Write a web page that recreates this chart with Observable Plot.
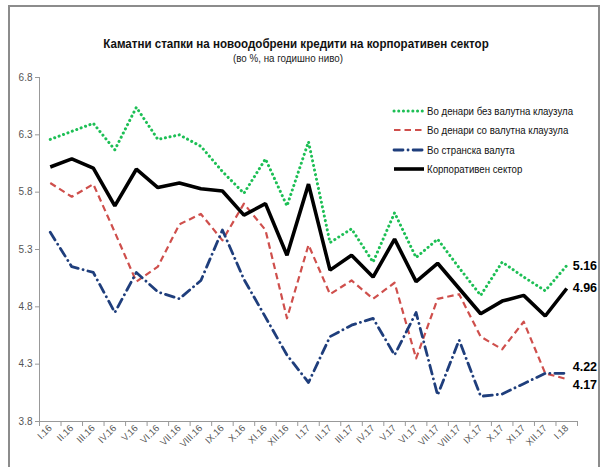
<!DOCTYPE html>
<html>
<head>
<meta charset="utf-8">
<script src="https://cdn.jsdelivr.net/npm/d3@7"></script>
<script src="https://cdn.jsdelivr.net/npm/@observablehq/plot@0.6"></script>
<style>
  html, body { margin: 0; padding: 0; background: #fff; }
  #wrap { position: relative; width: 600px; height: 467px; overflow: hidden; font-family: "Liberation Sans", Arial, sans-serif; }
  #frame { position: absolute; left: 8px; top: 5px; width: 600px; height: 480px; border-left: 2px solid #8c8c8c; border-top: 2px solid #8c8c8c; box-sizing: border-box; }
  #rframe { position: absolute; left: 598px; top: 5px; width: 2px; height: 480px; background: #8c8c8c; }
  #title { position: absolute; left: 296px; top: 36px; white-space: nowrap; font-weight: bold; font-size: 13.5px; color: #111; transform: translateX(-50%) scaleX(0.857); }
  #subtitle { position: absolute; left: 288px; top: 52px; white-space: nowrap; font-size: 11.5px; color: #222; transform: translateX(-50%) scaleX(0.85); }
  #legend { position: absolute; left: 392px; top: 101px; font-size: 11.5px; color: #111; }
  .row { height: 19.5px; display: flex; align-items: center; white-space: nowrap; }
  .row svg { margin-right: 1px; flex: none; }
  .row span { display: inline-block; transform: scaleX(0.84); transform-origin: left center; }
  #chart { position: absolute; left: 0; top: 0; }
</style>
</head>
<body>
<div id="wrap">
  <div id="chart"></div>
  <div id="frame"></div>
  <div id="rframe"></div>
  <div id="title">Каматни стапки на новоодобрени кредити на корпоративен сектор</div>
  <div id="subtitle">(во %, на годишно ниво)</div>
  <div id="legend"></div>
</div>
<script>
const months = ["I.16","II.16","III.16","IV.16","V.16","VI.16","VII.16","VIII.16","IX.16","X.16","XI.16","XII.16","I.17","II.17","III.17","IV.17","V.17","VI.17","VII.17","VIII.17","IX.17","X.17","XI.17","XII.17","I.18"];
const denNoClause = [6.26,6.33,6.40,6.17,6.54,6.26,6.30,6.20,5.98,5.79,6.09,5.68,6.24,5.36,5.48,5.19,5.62,5.23,5.39,5.14,4.90,5.19,5.06,4.94,5.16];
const denClause   = [5.88,5.76,5.87,5.45,5.02,5.15,5.52,5.61,5.38,5.70,5.47,4.70,5.34,4.91,5.03,4.87,5.01,4.35,4.87,4.91,4.54,4.43,4.67,4.22,4.17];
const foreign     = [5.45,5.15,5.10,4.75,5.10,4.93,4.87,5.03,5.47,5.04,4.71,4.38,4.14,4.54,4.64,4.70,4.38,4.75,4.03,4.51,4.02,4.04,4.13,4.22,4.22];
const corporate   = [6.02,6.09,6.01,5.68,6.00,5.84,5.88,5.83,5.81,5.60,5.70,5.25,5.87,5.12,5.25,5.06,5.39,5.02,5.18,4.96,4.74,4.85,4.90,4.72,4.96];
const yTicks = [3.8,4.3,4.8,5.3,5.8,6.3,6.8];
const seriesNames = ["Во денари без валутна клаузула","Во денари со валутна клаузула","Во странска валута","Корпоративен сектор"];

const styles = [
  {stroke: "#1dbf55", strokeWidth: 3, strokeDasharray: "0.1 4.6", strokeLinecap: "round"},
  {stroke: "#cf4f4c", strokeWidth: 2.2, strokeDasharray: "6.5 4", strokeLinecap: "butt"},
  {stroke: "#1f3e7c", strokeWidth: 2.8, strokeDasharray: "9 5 0.1 5", strokeLinecap: "round"},
  {stroke: "#000000", strokeWidth: 3.6, strokeLinecap: "butt", strokeLinejoin: "miter"}
];
const allSeries = [denNoClause, denClause, foreign, corporate];
const idx = months.map((m, i) => i);
const boundaries = d3.range(-0.5, months.length, 1);

const lineMarks = allSeries.map((vals, s) =>
  Plot.line(idx, {x: i => i, y: i => vals[i], ...styles[s]})
);

const last = months.length - 1;
const endUpper = [{v: denNoClause[last]}, {v: corporate[last]}];
const endTopLow = [{v: foreign[last]}];
const endBottom = [{v: denClause[last]}];
const textOpts = {fontWeight: "bold", fontSize: 12.5, fill: "#000", textAnchor: "start", dx: 6, fontFamily: "Liberation Sans, Arial, sans-serif"};

const plot = Plot.plot({
  width: 600,
  height: 467,
  marginLeft: 39,
  marginRight: 23,
  marginTop: 77,
  marginBottom: 46,
  style: {fontFamily: "'Liberation Sans', Arial, sans-serif", fontSize: "10px", color: "#555", background: "transparent", overflow: "visible"},
  x: {type: "linear", domain: [-0.5, months.length - 0.5]},
  y: {domain: [3.8, 6.8]},
  marks: [
    Plot.axisY({ticks: yTicks, tickFormat: d => d.toFixed(1), tickSize: 4, tickPadding: 3, stroke: "#999", label: null, fill: "#555"}),
    Plot.ruleX([-0.5], {stroke: "#999"}),
    Plot.ruleY([3.8], {stroke: "#999"}),
    Plot.axisX({ticks: boundaries, tickFormat: () => "", tickSize: 5, stroke: "#999", label: null}),
    Plot.axisX({ticks: idx, tickFormat: i => months[i], tickSize: 0, tickPadding: 5, tickRotate: -45, label: null, fill: "#555", fontSize: 9.5}),
    ...lineMarks,
    Plot.text(endUpper, {x: () => last, y: "v", text: d => d.v.toFixed(2), ...textOpts}),
    Plot.text(endTopLow, {x: () => last, y: "v", text: d => d.v.toFixed(2), dy: -6, ...textOpts}),
    Plot.text(endBottom, {x: () => last, y: "v", text: d => d.v.toFixed(2), dy: 6, ...textOpts})
  ]
});
document.getElementById("chart").appendChild(plot);

const legend = document.getElementById("legend");
seriesNames.forEach((name, s) => {
  const row = document.createElement("div");
  row.className = "row";
  const st = styles[s];
  row.innerHTML = `<svg width="34" height="8"><line x1="2" y1="4" x2="32" y2="4" stroke="${st.stroke}" stroke-width="${st.strokeWidth}" stroke-dasharray="${st.strokeDasharray || "none"}" stroke-linecap="${st.strokeLinecap}"/></svg><span>${name}</span>`;
  legend.appendChild(row);
});
</script>
</body>
</html>
